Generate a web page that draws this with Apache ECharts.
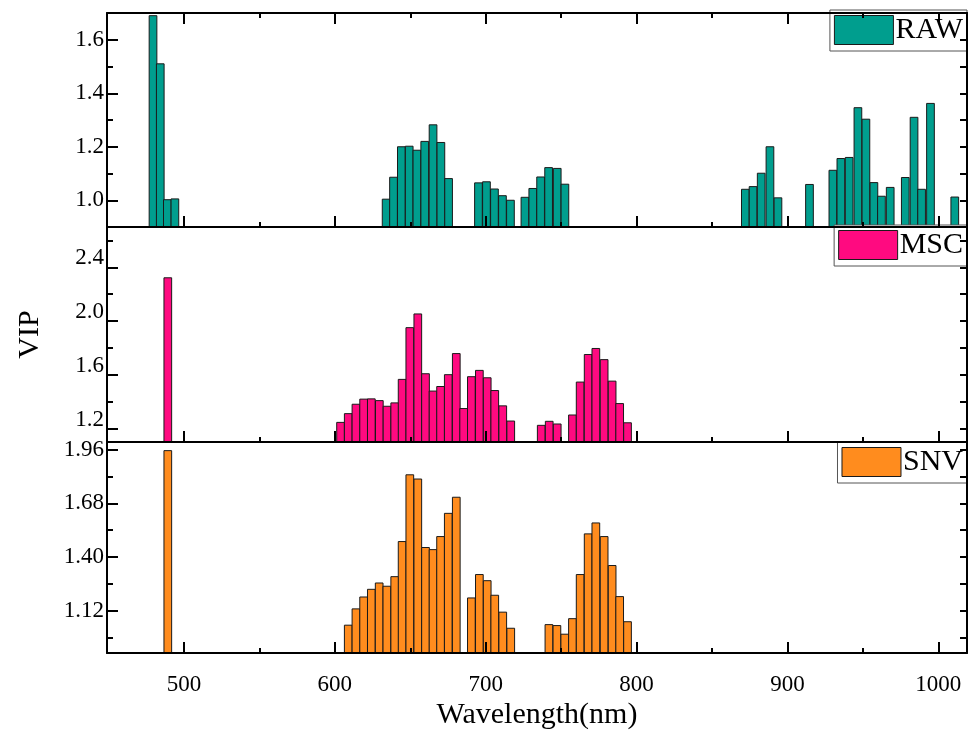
<!DOCTYPE html>
<html>
<head>
<meta charset="utf-8">
<script src="https://cdn.jsdelivr.net/npm/echarts@6/dist/echarts.min.js"></script>
<style>
  html, body { margin: 0; padding: 0; background: #fff; }
  #chart { width: 969px; height: 731px; }
</style>
</head>
<body>
<div id="chart"></div>
<script>
// wavelength (nm) and VIP, one pair of arrays per panel
const rawWl = [479.5, 484.3, 489.0, 494.0,
  634.0, 638.9, 644.1, 649.3, 654.4, 659.6, 665.1, 670.3, 675.4,
  695.2, 700.5, 705.8, 711.1, 716.4,
  726.0, 731.2, 736.4, 741.7, 747.4, 752.5,
  872.1, 877.2, 882.6, 888.4, 893.7, 914.6,
  930.1, 935.4, 940.9, 946.7, 952.0, 957.3, 962.3, 968.1,
  978.1, 983.9, 988.9, 994.8, 1010.9];
const rawVip = [1.69, 1.51, 1.002, 1.005,
  1.004, 1.086, 1.20, 1.202, 1.187, 1.22, 1.282, 1.216, 1.081,
  1.065, 1.069, 1.042, 1.017, 1.00,
  1.011, 1.044, 1.087, 1.122, 1.119, 1.06,
  1.041, 1.051, 1.101, 1.20, 1.009, 1.059,
  1.112, 1.156, 1.16, 1.346, 1.303, 1.066, 1.015, 1.048,
  1.085, 1.31, 1.041, 1.362, 1.012];

const mscWl = [489.3,
  603.8, 608.9, 614.0, 619.1, 624.2, 629.5, 634.6, 639.7, 644.6, 649.7, 655.0, 660.1,
  665.1, 670.1, 675.2, 680.5, 685.4, 690.5, 695.8, 701.0, 706.0, 711.3, 716.6,
  736.8, 742.1, 747.4,
  757.5, 762.6, 767.9, 773.0, 778.5, 783.8, 788.8, 794.0];
const mscVip = [2.322,
  1.246, 1.311, 1.381, 1.419, 1.421, 1.408, 1.366, 1.391, 1.566, 1.951, 2.053, 1.608,
  1.479, 1.513, 1.601, 1.758, 1.349, 1.586, 1.633, 1.578, 1.483, 1.369, 1.256,
  1.224, 1.254, 1.234,
  1.301, 1.546, 1.751, 1.796, 1.713, 1.553, 1.386, 1.243];

const snvWl = [489.3,
  608.9, 614.0, 619.1, 624.2, 629.4, 634.5, 639.7, 644.6, 649.7, 655.0, 660.1, 665.1,
  670.1, 675.2, 680.5,
  690.5, 695.8, 701.0, 706.0, 711.3, 716.6,
  741.9, 747.2, 752.4, 757.5, 762.6, 767.9, 773.0, 778.5, 783.8, 788.8, 794.0];
const snvVip = [1.955,
  1.045, 1.130, 1.192, 1.232, 1.265, 1.248, 1.298, 1.481, 1.829, 1.807, 1.450, 1.439,
  1.507, 1.628, 1.712,
  1.187, 1.309, 1.277, 1.201, 1.113, 1.029,
  1.048, 1.043, 0.998, 1.079, 1.309, 1.521, 1.578, 1.507, 1.356, 1.194, 1.063];

const xMajor = [500, 600, 700, 800, 900, 1000];
const xMinor = [550, 650, 750, 850, 950];

const panels = [
  { name: 'RAW', wl: rawWl, vip: rawVip, color: '#009E8E', min: 0.9, max: 1.7,
    major: [1.0, 1.2, 1.4, 1.6], minor: [1.1, 1.3, 1.5], digits: 1, lift: false },
  { name: 'MSC', wl: mscWl, vip: mscVip, color: '#FF0A80', min: 1.1, max: 2.7,
    major: [1.2, 1.6, 2.0, 2.4], minor: [1.4, 1.8, 2.2, 2.6], digits: 1, lift: true },
  { name: 'SNV', wl: snvWl, vip: snvVip, color: '#FF8C1E', min: 0.9, max: 2.0,
    major: [1.12, 1.40, 1.68, 1.96], minor: [0.98, 1.26, 1.54, 1.82], digits: 2, lift: false }
];

const FONT = 'Liberation Serif';
const BAR_NM = 5.1;   // one wavelength step
const tops = [13, 227, 442];
const heights = [214, 215, 213];
const legendTops = [10, 225, 442];

const grid = [], xAxis = [], yAxis = [], series = [], legend = [];

panels.forEach((p, i) => {
  grid.push({ left: 107, right: 2, top: tops[i], height: heights[i] });

  const xBase = {
    type: 'value', gridIndex: i, min: 449, max: 1019, z: 5,
    splitLine: { show: false },
    axisLine: { show: false },
    axisLabel: { show: false }
  };
  // bottom axis with major ticks (and labels on the last panel)
  xAxis.push(Object.assign({}, xBase, {
    position: 'bottom',
    axisLine: { show: true, onZero: false, lineStyle: { color: '#000', width: 2 } },
    axisTick: { inside: true, length: 11, customValues: xMajor, lineStyle: { color: '#000', width: 2 } },
    axisLabel: {
      show: i === 2, customValues: xMajor, margin: 20,
      fontFamily: FONT, fontSize: 23, color: '#000',
      formatter: v => String(v)
    },
    name: i === 2 ? 'Wavelength(nm)' : '',
    nameLocation: 'middle', nameGap: 47,
    nameTextStyle: { fontFamily: FONT, fontSize: 30, color: '#000' }
  }));
  const mainX = xAxis.length - 1;
  xAxis.push(Object.assign({}, xBase, {
    position: 'bottom',
    axisTick: { inside: true, length: 5, customValues: xMinor, lineStyle: { color: '#000', width: 2 } }
  }));
  if (i === 0) {
    xAxis.push(Object.assign({}, xBase, {
      position: 'top',
      axisLine: { show: true, onZero: false, lineStyle: { color: '#000', width: 2 } },
      axisTick: { inside: true, length: 11, customValues: xMajor, lineStyle: { color: '#000', width: 2 } }
    }));
    xAxis.push(Object.assign({}, xBase, {
      position: 'top',
      axisTick: { inside: true, length: 5, customValues: xMinor, lineStyle: { color: '#000', width: 2 } }
    }));
  }

  const yBase = {
    type: 'value', gridIndex: i, min: p.min, max: p.max, z: 5,
    splitLine: { show: false },
    axisLine: { show: false },
    axisLabel: { show: false }
  };
  const yLabel = {
    show: true, customValues: p.major, margin: 3,
    fontFamily: FONT, fontSize: 23, color: '#000',
    formatter: v => Number(v).toFixed(p.digits)
  };
  if (p.lift) {
    // the middle panel's labels sit just above their ticks
    yLabel.verticalAlign = 'bottom';
    yLabel.lineHeight = 18;
  }
  yAxis.push(Object.assign({}, yBase, {
    position: 'left',
    axisLine: { show: true, onZero: false, lineStyle: { color: '#000', width: 2 } },
    axisTick: { inside: true, length: 11, customValues: p.major, lineStyle: { color: '#000', width: 2 } },
    axisLabel: yLabel,
    name: i === 1 ? 'VIP' : '',
    nameLocation: 'middle', nameGap: 62, nameRotate: 90,
    nameTextStyle: { fontFamily: FONT, fontSize: 30, color: '#000' }
  }));
  const mainY = yAxis.length - 1;
  yAxis.push(Object.assign({}, yBase, {
    position: 'left',
    axisTick: { inside: true, length: 6, customValues: p.minor, lineStyle: { color: '#000', width: 2 } }
  }));
  yAxis.push(Object.assign({}, yBase, {
    position: 'right',
    axisLine: { show: true, onZero: false, lineStyle: { color: '#000', width: 2 } },
    axisTick: { inside: true, length: 7, customValues: p.major.concat(p.minor), lineStyle: { color: '#000', width: 2 } }
  }));

  // bars as rects one wavelength step wide, standing on the panel floor
  series.push({
    name: p.name,
    type: 'custom',
    xAxisIndex: mainX,
    yAxisIndex: mainY,
    clip: true,
    itemStyle: { color: p.color },
    encode: { x: 0, y: 1 },
    data: p.wl.map((w, k) => [w, p.vip[k]]),
    renderItem: (params, api) => {
      const w = api.value(0), v = api.value(1);
      const a = api.coord([w - BAR_NM / 2, v]);
      const b = api.coord([w + BAR_NM / 2, p.min]);
      return {
        type: 'rect',
        shape: { x: a[0], y: a[1], width: b[0] - a[0], height: b[1] - a[1] },
        style: { fill: p.color, stroke: '#1a1a1a', lineWidth: 1 }
      };
    }
  });

  legend.push({
    data: [p.name],
    right: 2, top: legendTops[i],
    icon: 'rect', itemWidth: 59, itemHeight: 29,
    itemStyle: { color: p.color, borderColor: '#1a1a1a', borderWidth: 1 },
    backgroundColor: '#fff',
    borderColor: '#555', borderWidth: 1,
    padding: [5, 4, 6, 4],
    textStyle: { fontFamily: FONT, fontSize: 30, color: '#000', padding: [0, 0, 0, -3] }
  });
});

const chart = echarts.init(document.getElementById('chart'));
chart.setOption({
  animation: false,
  backgroundColor: '#fff',
  grid, xAxis, yAxis, series, legend
});
</script>
</body>
</html>
